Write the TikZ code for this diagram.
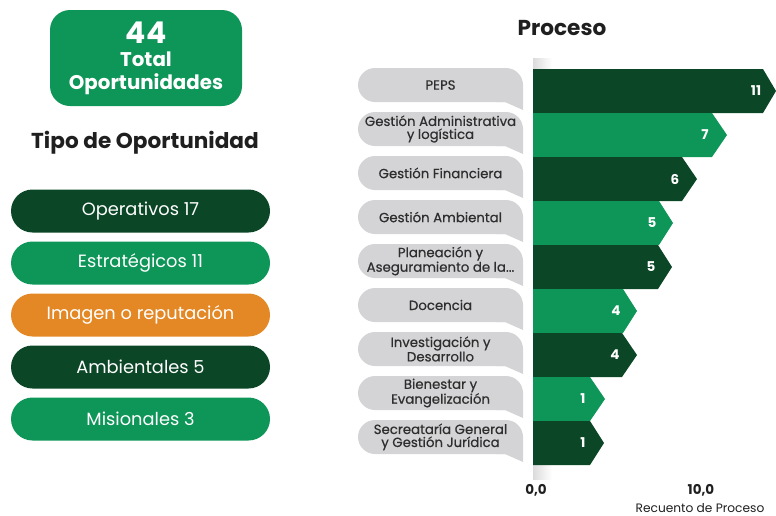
\documentclass[tikz,border=0pt]{standalone}
\usepackage{fontspec}
\setmainfont{Poppins}
\newfontfamily\medfont{Poppins}[FakeBold=0.5]
\definecolor{dkgreen}{HTML}{0B4726}
\definecolor{mdgreen}{HTML}{0E9558}
\definecolor{orng}{HTML}{E38825}
\definecolor{bubgray}{HTML}{D4D4D6}
\definecolor{txtdark}{HTML}{1F1F1F}
\definecolor{txtgray}{HTML}{2E2E2E}
\begin{document}
\begin{tikzpicture}[x=1pt,y=-1pt,
  pill/.style={rounded corners=21.5pt, minimum width=259pt, minimum height=43pt, inner sep=0pt,
    text=white, font=\fontsize{17.8}{20}\selectfont},
  bubble/.style={fill=bubgray, rounded corners=17pt, minimum width=165pt, minimum height=34pt,
    inner sep=0pt, align=center, text=txtgray, font=\medfont\fontsize{13.3}{13}\selectfont},
  barlbl/.style={text=white, font=\bfseries\fontsize{13.5}{13}\selectfont, inner sep=0pt},
  title/.style={text=txtdark, font=\bfseries\fontsize{21.6}{22}\selectfont, inner sep=0pt, anchor=base},
  axlbl/.style={text=txtdark, font=\bfseries\fontsize{13.5}{14}\selectfont, inner sep=0pt, anchor=base}]
\useasboundingbox (0,0) rectangle (776,515);
% total box
\node[fill=mdgreen, rounded corners=20pt, minimum width=192pt, minimum height=96pt, inner sep=0pt] (total) at (146,58) {};
\node[text=white, font=\bfseries\fontsize{30}{30}\selectfont, anchor=base, inner sep=0pt] (n44) at (146,43) {44};
\node[text=white, font=\bfseries\fontsize{19.8}{20}\selectfont, anchor=base, inner sep=0pt] (ttot) at (146,66) {Total};
\node[text=white, font=\bfseries\fontsize{19.8}{20}\selectfont, anchor=base, inner sep=0pt] (topo) at (146,89) {Oportunidades};
\node[title] (tipo) at (145,148) {Tipo de Oportunidad};
% pills
\node[pill, fill=dkgreen] (p1) at (140.5,211) {Operativos 17};
\node[pill, fill=mdgreen] (p2) at (140.5,263) {Estratégicos 11};
\node[pill, fill=orng] (p3) at (140.5,315) {Imagen o reputación};
\node[pill, fill=dkgreen] (p4) at (140.5,367) {Ambientales 5};
\node[pill, fill=mdgreen] (p5) at (140.5,419) {Misionales 3};
% right title
\node[title] (proc) at (562,35) {Proceso};
% axis shade
\shade[left color=black!14, right color=white] (533,58) rectangle (552,479);
% bubbles
\foreach \i/\txt in {0/PEPS, 1/{Gestión Administrativa\\y logística}, 2/Gestión Financiera,
  3/Gestión Ambiental, 4/{Planeación y\\Aseguramiento de la...}, 5/Docencia,
  6/{Investigación y\\Desarrollo}, 7/{Bienestar y\\Evangelización},
  8/{Secreataría General\\y Gestión Jurídica}} {
  \fill[bubgray] (440.5,68+44*\i) ++(82.5,17) coordinate (e\i) -- ++(0,25) -- ++(-18,-8) -- ++(-9,0) -- ++(0,-17) -- cycle;
  \node[bubble] (b\i) at (440.5,85+44*\i) {\txt};
}
% bars
\foreach \i/\E/\T/\c/\v in {0/763/776/dkgreen/11, 1/712/727/mdgreen/7, 2/682/697/dkgreen/6,
  3/659/673/mdgreen/5, 4/658/672/dkgreen/5, 5/623/637/mdgreen/4, 6/622/637/dkgreen/4,
  7/590/605/mdgreen/1, 8/590/604/dkgreen/1} {
  \fill[\c] (533,69+44*\i) -- (\E,69+44*\i) -- (\T,91+44*\i) -- (\E,113+44*\i) -- (533,113+44*\i) -- cycle;
  \node[barlbl] (v\i) at (\E-7,91+44*\i) {\v};
}
% axis labels
\node[axlbl] (a0) at (536,494) {0,0};
\node[axlbl] (a10) at (701,494) {10,0};
\node[text=txtdark, font=\fontsize{12.2}{12}\selectfont, anchor=base, inner sep=0pt] (arec) at (700,512) {Recuento de Proceso};
\end{tikzpicture}
\end{document}
